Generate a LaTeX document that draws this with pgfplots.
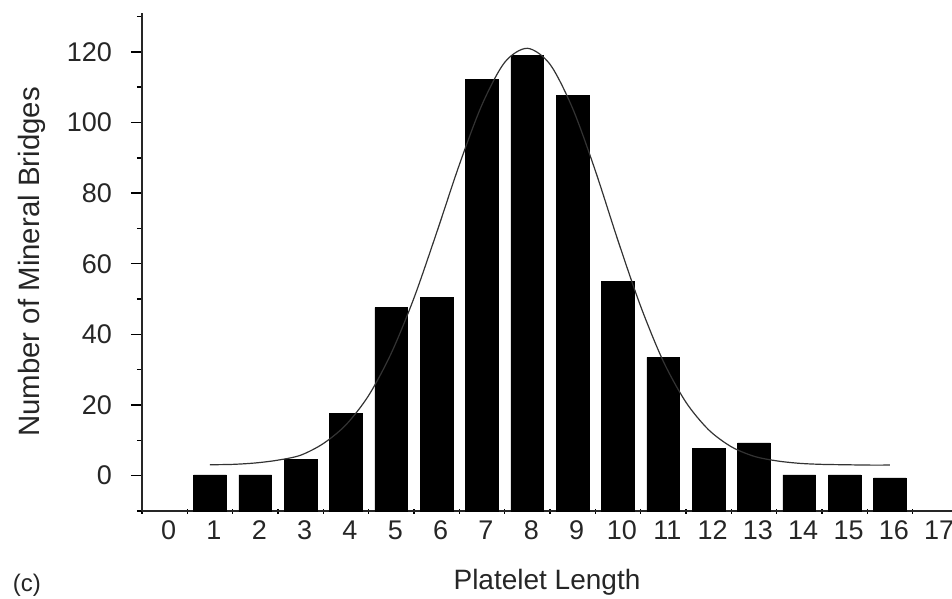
\documentclass[border=0pt]{standalone}
\usepackage{fontspec}
\setmainfont{Liberation Sans}
\usepackage{pgfplots}
\pgfplotsset{compat=1.18}
\begin{document}
\begin{tikzpicture}
\begin{axis}[
  scale only axis,
  width=405pt, height=249pt,
  xmin=-0.5, xmax=17.37,
  ymin=-10, ymax=131,
  y coord trafo/.code={\pgfmathparse{#1+10}},
  y coord inv trafo/.code={\pgfmathparse{#1-10}},
  axis lines*=left,
  axis line style={line width=0.7pt, black!85},
  /pgf/number format/assume math mode=true,
  xtick={0,1,...,17},
  xticklabels={0,1,2,3,4,5,6,7,8,9,10,11,12,13,14,15,16,17},
  minor xtick={-0.5,0.5,...,16.5},
  ytick={0,20,40,60,80,100,120},
  yticklabels={0,20,40,60,80,100,120},
  minor ytick={-10,10,30,50,70,90,110,130},
  tick style={black, line width=0.7pt},
  major x tick style={draw=none},
  major tick length=5.5pt,
  minor tick length=2.5pt,
  tick align=outside,
  minor x tick style={line width=0.6pt, yshift=1.25pt},
  every tick label/.append style={font=\fontsize{13.5}{16}\selectfont, black!85},
  xticklabel style={yshift=4pt, xshift=2pt},
  yticklabel style={xshift=-6pt},
  xlabel={Platelet Length},
  ylabel={Number of Mineral Bridges},
  xlabel style={font=\fontsize{14}{16}\selectfont, black!85, at={(axis description cs:0.5,-0.1426)}, anchor=center},
  ylabel style={font=\fontsize{14.7}{17}\selectfont, black!85, at={(axis description cs:-0.1358,0.5)}, anchor=center},
  clip=false,
]
\addplot[ybar, bar width=0.72, fill=black, draw=black, line width=0.3pt]
coordinates {
(1,0.2) (2,0.2) (3,4.6) (4,17.6) (5,47.6) (6,50.5) (7,112.3) (8,119.0)
(9,107.7) (10,55) (11,33.5) (12,7.7) (13,9.3) (14,0.2) (15,0.2) (16,-0.6)
};
\addplot[smooth, black!80, line width=0.6pt, mark=none]
coordinates {
(1,3.1)(1.5,3.2)(2,3.6)(2.5,4.4)(3,5.8)(3.5,9.1)(4,14.4)(4.5,22.7)(5,34.7)
(5.5,50.3)(6,68.8)(6.5,88)(7,105)(7.5,117)(8,121)(8.5,116.5)(9,104)(9.5,86.4)
(10,66.6)(10.5,48)(11,32.4)(11.5,20.8)(12,13)(12.5,8.2)(13,5.5)(13.5,4.2)
(14,3.5)(14.5,3.2)(15,3.1)(15.5,3)(16,3)
};
\node[font=\fontsize{12}{14}\selectfont, black!85] at (rel axis cs:-0.142,-0.149) {(c)};
\end{axis}
\pgfresetboundingbox
\useasboundingbox (-71pt,-44pt) rectangle (405pt,255.5pt);
\end{tikzpicture}
\end{document}
